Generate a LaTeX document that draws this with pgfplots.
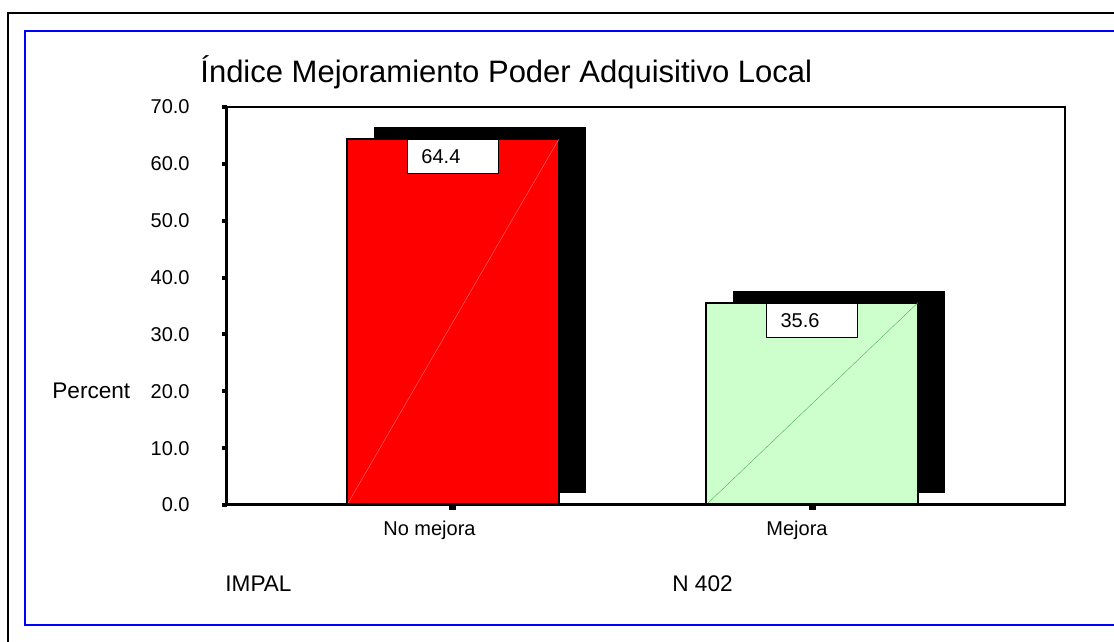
\documentclass[border=0pt]{standalone}
\usepackage{fontspec}
\setmainfont{Liberation Sans}
\usepackage{pgfplots}
\pgfplotsset{compat=1.18}
\pgfkeys{/pgf/number format/assume math mode=true}
\definecolor{barred}{RGB}{255,0,0}
\definecolor{bargreen}{RGB}{204,255,204}
\definecolor{frameblue}{RGB}{0,0,255}
\newcommand{\tickfont}{\fontsize{10pt}{12pt}\selectfont}
\begin{document}
\begin{tikzpicture}
\clip (0,0) rectangle (557pt,321pt);
\fill[white] (0,0) rectangle (557pt,321pt);
\draw[black, line width=0.7pt] (4pt,-20pt) rectangle (600pt,314.5pt);
\draw[frameblue, line width=0.7pt] (12.5pt,8.5pt) rectangle (600pt,305.5pt);
\begin{axis}[
  at={(113.5pt,68.5pt)}, anchor=south west,
  scale only axis, width=419pt, height=199pt,
  xmin=-0.6295, xmax=1.7047, ymin=0, ymax=70,
  xtick={0,1}, xticklabels={{No mejora\hspace*{8.5pt}}, Mejora},
  ytick={0,10,20,30,40,50,60,70},
  tick pos=left,
  tick align=outside, major tick length=2.5pt,
  xtick style={line width=3.5pt, black},
  ytick style={line width=2pt, black},
  axis line style={line width=1pt},
  tick label style={font=\tickfont},
  yticklabel style={font=\tickfont, anchor=east, inner sep=0pt, xshift=-16pt},
  xticklabel style={font=\tickfont, anchor=base, inner sep=0pt, yshift=-13pt, xshift=-7.5pt},
  yticklabel={\tickfont\pgfmathprintnumber[fixed, fixed zerofill, precision=1]{\tick}},
  clip=false,
]
% shadows
\addplot[fill=black, draw=none, forget plot] coordinates {(-0.2201,2.11) (0.3705,2.11) (0.3705,66.51) (-0.2201,66.51)};
\addplot[fill=black, draw=none, forget plot] coordinates {(0.7799,2.11) (1.3705,2.11) (1.3705,37.71) (0.7799,37.71)};
% bars
\addplot[fill=barred, draw=black, line width=1pt] coordinates {(-0.2953,0) (0.2953,0) (0.2953,64.4) (-0.2953,64.4) (-0.2953,0)};
\addplot[fill=bargreen, draw=black, line width=1pt] coordinates {(0.7047,0) (1.2953,0) (1.2953,35.6) (0.7047,35.6) (0.7047,0)};
% diagonal artefacts
\addplot[red!55!white, line width=0.2pt] coordinates {(-0.2953,0) (0.2953,64.4)};
\addplot[green!35!gray, line width=0.2pt] coordinates {(0.7047,0) (1.2953,35.6)};
% value labels
\addplot[only marks, mark=none,
  nodes near coords={\tickfont\pgfmathprintnumber[fixed, fixed zerofill, precision=1]{\pgfplotspointmeta}},
  every node near coord/.append style={anchor=north, draw=black, fill=white, line width=0.75pt,
    inner xsep=7pt, text width=31.5pt, align=left, minimum height=17pt,
    font=\tickfont}]
  coordinates {(0,64.4) (1,35.6)};
\draw[line width=1.5pt] (rel axis cs:0,1) -- (rel axis cs:0,0) -- (rel axis cs:1,0);
\end{axis}
\node[anchor=base west, inner sep=0pt, font=\fontsize{15.5}{18}\selectfont] at (100pt,279.5pt) {Índice Mejoramiento Poder Adquisitivo Local};
\node[anchor=base west, inner sep=0pt, font=\fontsize{11.3}{13}\selectfont] at (26pt,121.5pt) {Percent};
\node[anchor=base west, inner sep=0pt, font=\fontsize{11.3}{13}\selectfont] at (112.5pt,25pt) {IMPAL};
\node[anchor=base west, inner sep=0pt, font=\fontsize{11.3}{13}\selectfont] at (336pt,25pt) {N 402};
\end{tikzpicture}
\end{document}
